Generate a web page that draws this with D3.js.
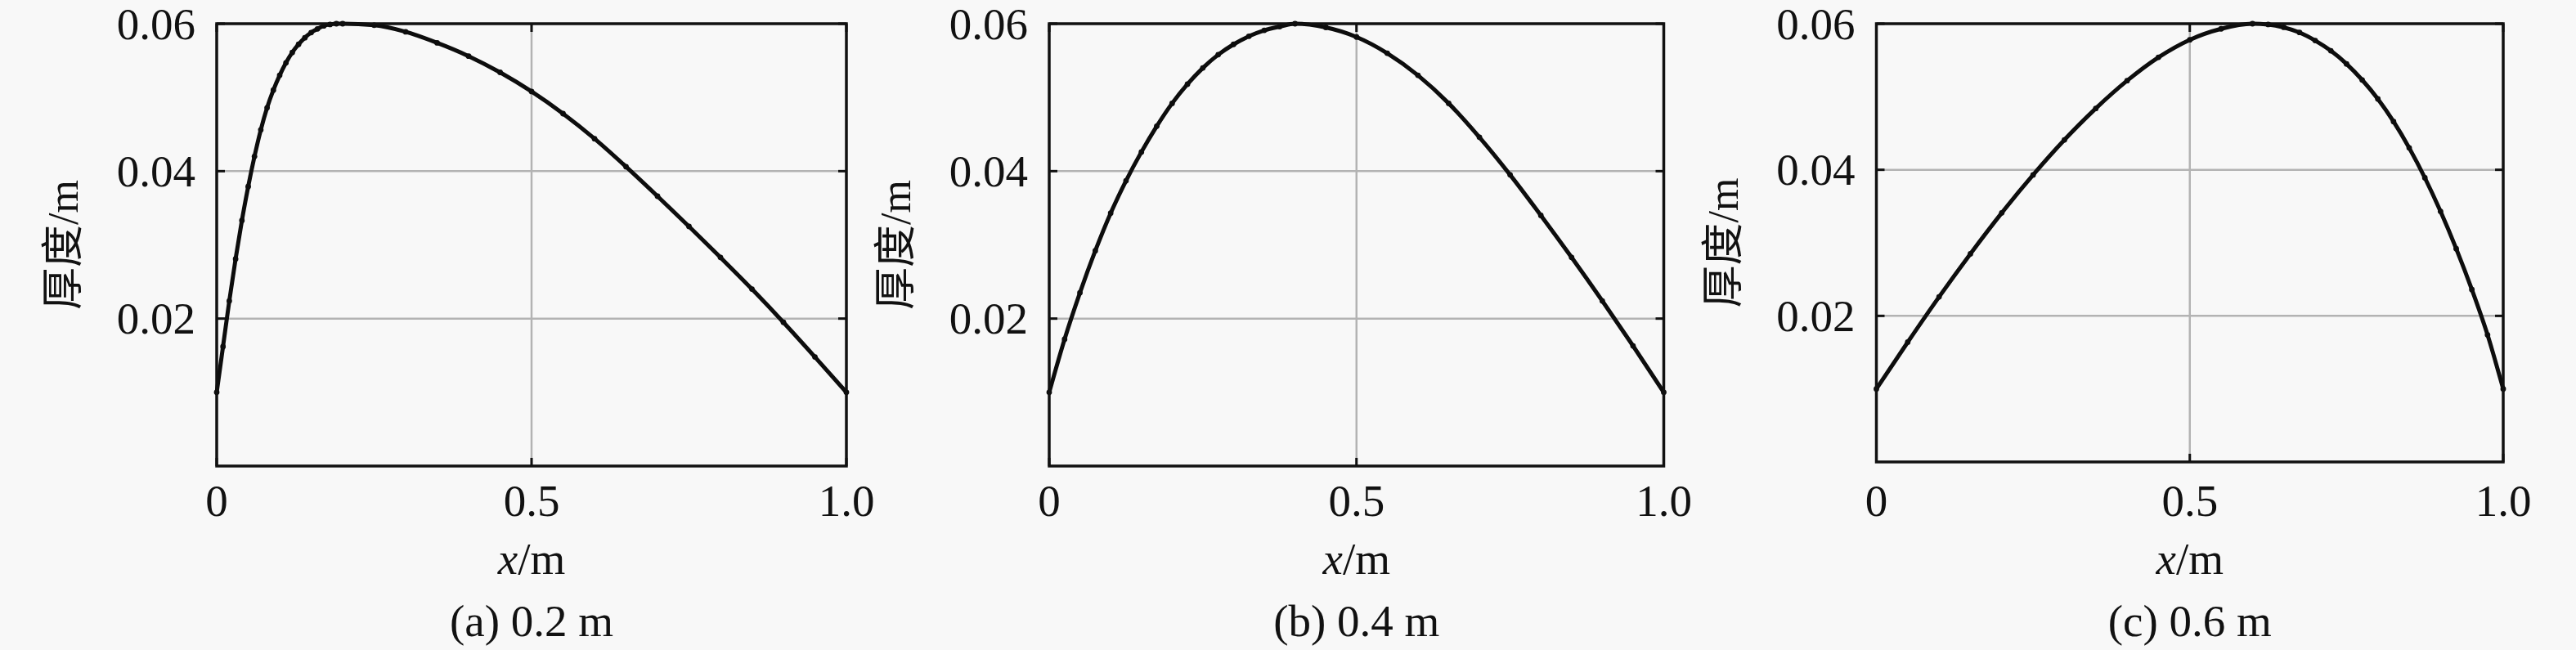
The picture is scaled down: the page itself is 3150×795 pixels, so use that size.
<!DOCTYPE html>
<html><head><meta charset="utf-8">
<script src="https://cdn.jsdelivr.net/npm/d3@7"></script>
<style>html,body{margin:0;padding:0;background:#f8f8f8;}</style>
</head><body>
<svg id="chart" width="3150" height="795" xmlns="http://www.w3.org/2000/svg"></svg>
<script>
// ---- data ----
const xTicks = [0, 0.5, 1.0];
const xTickLabels = ["0", "0.5", "1.0"];
const yTicks = [0.02, 0.04, 0.06];
const yTickLabels = ["0.02", "0.04", "0.06"];
const yLabel = "厚度/m";
const captions = ["(a) 0.2 m", "(b) 0.4 m", "(c) 0.6 m"];

const xA = [0, 0.01, 0.02, 0.03, 0.04, 0.05, 0.06, 0.07, 0.08, 0.09, 0.10, 0.11, 0.12, 0.13, 0.14, 0.15, 0.16, 0.17, 0.18, 0.19, 0.20,
            0.25, 0.30, 0.35, 0.40, 0.45, 0.50, 0.55, 0.60, 0.65, 0.70, 0.75, 0.80, 0.85, 0.90, 0.95, 1.00];
const yA = [0.0100, 0.0162, 0.0224, 0.0281, 0.0333, 0.0379, 0.0420, 0.0456, 0.0486, 0.0510, 0.0530, 0.0547, 0.0561, 0.0572, 0.0581, 0.0588, 0.0593, 0.0597, 0.0599, 0.0600, 0.0600,
            0.0598, 0.0589, 0.0574, 0.0556, 0.0534, 0.0508, 0.0478, 0.0444, 0.0406, 0.0366, 0.0325, 0.0283, 0.0240, 0.0195, 0.0148, 0.0100];

const xB = [0, 0.025, 0.05, 0.075, 0.10, 0.125, 0.15, 0.175, 0.20, 0.225, 0.25, 0.275, 0.30, 0.325, 0.35, 0.375, 0.40,
            0.45, 0.50, 0.55, 0.60, 0.65, 0.70, 0.75, 0.80, 0.85, 0.90, 0.95, 1.00];
const yB = [0.0100, 0.0172, 0.0235, 0.0292, 0.0343, 0.0387, 0.0426, 0.0461, 0.0492, 0.0518, 0.0540, 0.0558, 0.0572, 0.0583, 0.0591, 0.0596, 0.0600,
            0.0595, 0.0582, 0.0560, 0.0530, 0.0492, 0.0446, 0.0395, 0.0340, 0.0283, 0.0224, 0.0163, 0.0100];

const xC = [0, 0.05, 0.10, 0.15, 0.20, 0.25, 0.30, 0.35, 0.40, 0.45, 0.50, 0.55, 0.60,
            0.625, 0.65, 0.675, 0.70, 0.725, 0.75, 0.775, 0.80, 0.825, 0.85, 0.875, 0.90, 0.925, 0.95, 0.975, 1.00];
const yC = [0.0100, 0.0164, 0.0226, 0.0285, 0.0341, 0.0393, 0.0441, 0.0484, 0.0522, 0.0554, 0.0578, 0.0593, 0.0600,
            0.0599, 0.0595, 0.0588, 0.0577, 0.0563, 0.0545, 0.0523, 0.0497, 0.0466, 0.0430, 0.0389, 0.0343, 0.0292, 0.0236, 0.0174, 0.0100];

const seriesX = [xA, xB, xC];
const seriesY = [yA, yB, yC];

// ---- layout (pixels) ----
const frames = [
  {left: 265,    right: 1035,   top: 29, bottom: 570},
  {left: 1283,   right: 2034.5, top: 29, bottom: 570},
  {left: 2294.5, right: 3061,   top: 29, bottom: 565}
];
const serif = "'Liberation Serif','Times New Roman',serif";
const cjk = "'Liberation Serif','Noto Sans CJK SC',serif";
const fs = 55;

const svg = d3.select("#chart");
svg.append("rect").attr("width", 3150).attr("height", 795).attr("fill", "#f8f8f8");

frames.forEach((f, i) => {
  const x = d3.scaleLinear().domain([0, 1]).range([f.left, f.right]);
  const y = d3.scaleLinear().domain([0, 0.06]).range([f.bottom, f.top]);
  const g = svg.append("g");

  // grid
  g.append("line").attr("x1", x(0.5)).attr("x2", x(0.5)).attr("y1", f.top).attr("y2", f.bottom)
    .attr("stroke", "#b3b3b3").attr("stroke-width", 2.5);
  [0.02, 0.04].forEach(v => {
    g.append("line").attr("x1", f.left).attr("x2", f.right).attr("y1", y(v)).attr("y2", y(v))
      .attr("stroke", "#b3b3b3").attr("stroke-width", 2.5);
  });

  // curve
  const pts = seriesX[i].map((xv, k) => [xv, seriesY[i][k]]);
  const line = d3.line().x(d => x(d[0])).y(d => y(d[1])).curve(d3.curveMonotoneX);
  g.append("path").datum(pts).attr("d", line).attr("fill", "none")
    .attr("stroke", "#0d0d0d").attr("stroke-width", 5).attr("stroke-linejoin", "round");
  g.selectAll("circle.m").data(pts).enter().append("circle")
    .attr("cx", d => x(d[0])).attr("cy", d => y(d[1])).attr("r", 3.4).attr("fill", "#0d0d0d");

  // frame
  g.append("rect").attr("x", f.left).attr("y", f.top)
    .attr("width", f.right - f.left).attr("height", f.bottom - f.top)
    .attr("fill", "none").attr("stroke", "#111").attr("stroke-width", 3.5);

  // inward ticks
  const tl = 10;
  xTicks.forEach(v => {
    g.append("line").attr("x1", x(v)).attr("x2", x(v)).attr("y1", f.bottom).attr("y2", f.bottom - tl)
      .attr("stroke", "#111").attr("stroke-width", 3);
    g.append("line").attr("x1", x(v)).attr("x2", x(v)).attr("y1", f.top).attr("y2", f.top + tl)
      .attr("stroke", "#111").attr("stroke-width", 3);
  });
  yTicks.forEach(v => {
    g.append("line").attr("x1", f.left).attr("x2", f.left + tl).attr("y1", y(v)).attr("y2", y(v))
      .attr("stroke", "#111").attr("stroke-width", 3);
    g.append("line").attr("x1", f.right).attr("x2", f.right - tl).attr("y1", y(v)).attr("y2", y(v))
      .attr("stroke", "#111").attr("stroke-width", 3);
  });

  // tick labels
  xTicks.forEach((v, k) => {
    g.append("text").attr("x", x(v)).attr("y", 631).attr("text-anchor", "middle")
      .attr("font-family", serif).attr("font-size", fs).attr("fill", "#111").text(xTickLabels[k]);
  });
  yTicks.forEach((v, k) => {
    g.append("text").attr("x", f.left - 26).attr("y", y(v) + 0.34 * fs).attr("text-anchor", "end")
      .attr("font-family", serif).attr("font-size", fs).attr("fill", "#111").text(yTickLabels[k]);
  });

  // axis titles
  const cx = (f.left + f.right) / 2;
  const xt = g.append("text").attr("x", cx).attr("y", 702).attr("text-anchor", "middle")
    .attr("font-family", serif).attr("font-size", fs).attr("fill", "#111");
  xt.append("tspan").attr("font-style", "italic").text("x");
  xt.append("tspan").text("/m");

  const cy = (f.top + f.bottom) / 2;
  g.append("text").attr("transform", `translate(${f.left - 170},${cy}) rotate(-90)`)
    .attr("text-anchor", "middle").attr("font-family", cjk).attr("font-size", 52)
    .attr("fill", "#111").text(yLabel);

  // caption
  g.append("text").attr("x", cx).attr("y", 778).attr("text-anchor", "middle")
    .attr("font-family", serif).attr("font-size", fs).attr("fill", "#111").text(captions[i]);
});
</script>
</body></html>
